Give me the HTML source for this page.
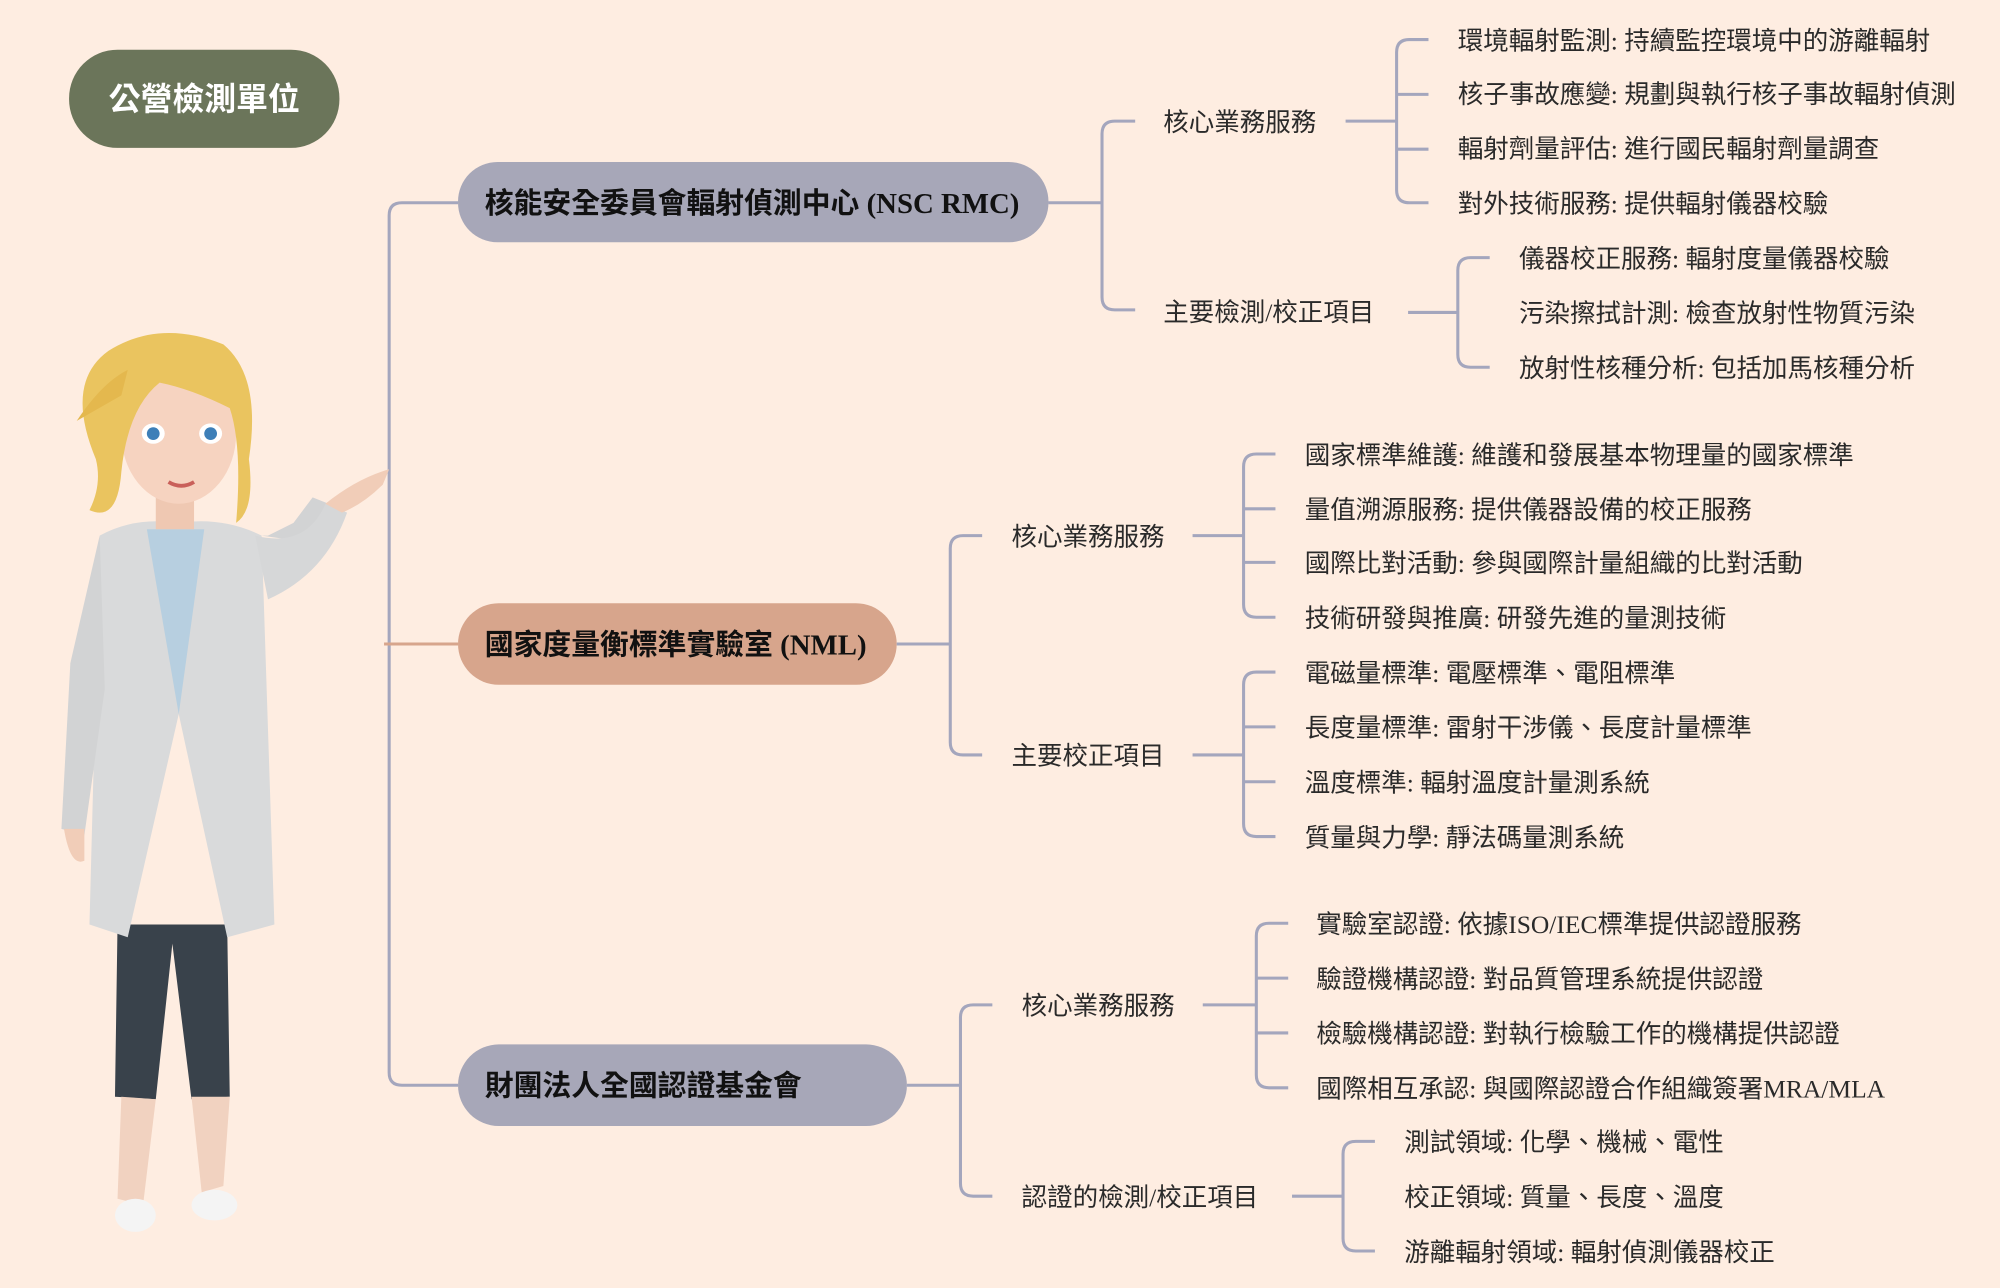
<!DOCTYPE html>
<html><head><meta charset="utf-8"><style>
html,body{margin:0;padding:0;background:#feede1;}
svg{display:block}
text{font-family:"Liberation Serif","Noto Sans CJK TC",sans-serif;fill:#2a2a2a;dominant-baseline:central}
.leaf{font-size:20px}
.mid{font-size:20px}
.node{font-size:22.6px;font-weight:bold;fill:#111}
.ln{fill:none;stroke:#a4a6bd;stroke-width:2.4}
</style></head><body>
<svg width="2000" height="1288" viewBox="0 0 1568 1010" xmlns="http://www.w3.org/2000/svg">
<rect width="1568" height="1010" fill="#feede1"/>
<rect x="54" y="39" width="212" height="77" rx="38" fill="#6b755a"/>
<text x="160" y="78" text-anchor="middle" style="font-size:25px;font-weight:bold;fill:#fff">公營檢測單位</text>

<path class="ln" d="M359,159 H315 Q305,159 305,169 V841 Q305,851 315,851 H359"/>
<path d="M301,505 H359" stroke="#d7a58c" stroke-width="2.4" fill="none"/>

<rect x="359" y="127" width="463" height="63" rx="31" fill="#a7a7b8"/>
<text class="node" x="380" y="160">核能安全委員會輻射偵測中心 (NSC RMC)</text>
<rect x="359" y="473" width="344" height="64" rx="32" fill="#d7a58c"/>
<text class="node" x="380" y="506">國家度量衡標準實驗室 (NML)</text>
<rect x="359" y="819" width="352" height="64" rx="32" fill="#a7a7b8"/>
<text class="node" x="380" y="852">財團法人全國認證基金會</text>

<path class="ln" d="M822,159 H864 M890,95 H874 Q864,95 864,105 V233 Q864,243 874,243 H890"/>
<text class="mid" x="912" y="96">核心業務服務</text>
<text class="mid" x="912" y="245">主要檢測/校正項目</text>
<path class="ln" d="M1055,95 H1095 M1120,31 H1105 Q1095,31 1095,41 V149 Q1095,159 1105,159 H1120 M1095,74 H1120 M1095,117 H1120"/>
<text class="leaf" x="1143" y="32">環境輻射監測: 持續監控環境中的游離輻射</text>
<text class="leaf" x="1143" y="74">核子事故應變: 規劃與執行核子事故輻射偵測</text>
<text class="leaf" x="1143" y="117">輻射劑量評估: 進行國民輻射劑量調查</text>
<text class="leaf" x="1143" y="160">對外技術服務: 提供輻射儀器校驗</text>
<path class="ln" d="M1104,245 H1143 M1168,202 H1153 Q1143,202 1143,212 V278 Q1143,288 1153,288 H1168"/>
<text class="leaf" x="1191" y="203">儀器校正服務: 輻射度量儀器校驗</text>
<text class="leaf" x="1191" y="246">污染擦拭計測: 檢查放射性物質污染</text>
<text class="leaf" x="1191" y="289">放射性核種分析: 包括加馬核種分析</text>

<path class="ln" d="M703,505 H745 M770,420 H755 Q745,420 745,430 V582 Q745,592 755,592 H770"/>
<text class="mid" x="793" y="421">核心業務服務</text>
<text class="mid" x="793" y="593">主要校正項目</text>
<path class="ln" d="M935,420 H975 M1000,356 H985 Q975,356 975,366 V474 Q975,484 985,484 H1000 M975,399 H1000 M975,441 H1000"/>
<text class="leaf" x="1023" y="357">國家標準維護: 維護和發展基本物理量的國家標準</text>
<text class="leaf" x="1023" y="400">量值溯源服務: 提供儀器設備的校正服務</text>
<text class="leaf" x="1023" y="442">國際比對活動: 參與國際計量組織的比對活動</text>
<text class="leaf" x="1023" y="485">技術研發與推廣: 研發先進的量測技術</text>
<path class="ln" d="M935,592 H975 M1000,527 H985 Q975,527 975,537 V646 Q975,656 985,656 H1000 M975,570 H1000 M975,613 H1000"/>
<text class="leaf" x="1023" y="528">電磁量標準: 電壓標準、電阻標準</text>
<text class="leaf" x="1023" y="571">長度量標準: 雷射干涉儀、長度計量標準</text>
<text class="leaf" x="1023" y="614">溫度標準: 輻射溫度計量測系統</text>
<text class="leaf" x="1023" y="657">質量與力學: 靜法碼量測系統</text>

<path class="ln" d="M711,851 H753 M778,788 H763 Q753,788 753,798 V928 Q753,938 763,938 H778"/>
<text class="mid" x="801" y="789">核心業務服務</text>
<text class="mid" x="801" y="939">認證的檢測/校正項目</text>
<path class="ln" d="M943,788 H985 M1010,724 H995 Q985,724 985,734 V843 Q985,853 995,853 H1010 M985,767 H1010 M985,810 H1010"/>
<text class="leaf" x="1032" y="725">實驗室認證: 依據ISO/IEC標準提供認證服務</text>
<text class="leaf" x="1032" y="768">驗證機構認證: 對品質管理系統提供認證</text>
<text class="leaf" x="1032" y="811">檢驗機構認證: 對執行檢驗工作的機構提供認證</text>
<text class="leaf" x="1032" y="854">國際相互承認: 與國際認證合作組織簽署MRA/MLA</text>
<path class="ln" d="M1013,938 H1053 M1078,895 H1063 Q1053,895 1053,905 V971 Q1053,981 1063,981 H1078"/>
<text class="leaf" x="1101" y="896">測試領域: 化學、機械、電性</text>
<text class="leaf" x="1101" y="939">校正領域: 質量、長度、溫度</text>
<text class="leaf" x="1101" y="982">游離輻射領域: 輻射偵測儀器校正</text>

<g>
<path d="M92,725 L90,860 L122,862 L135,740 L150,862 L180,860 L178,725 Z" fill="#39424b"/>
<path d="M95,860 L92,940 L112,945 L122,862 Z" fill="#f1d2c0"/>
<path d="M150,860 L158,935 L175,930 L180,860 Z" fill="#f1d2c0"/>
<ellipse cx="106" cy="953" rx="16" ry="13" fill="#f4f4f4"/>
<ellipse cx="168" cy="945" rx="18" ry="12" fill="#f4f4f4"/>
<path d="M78,420 Q105,405 140,410 Q175,405 205,420 L215,725 L178,735 L140,560 L100,735 L70,725 Z" fill="#d9dadb"/>
<path d="M115,415 L140,560 L160,415 Z" fill="#b7cfe0"/>
<path d="M78,420 L55,520 L48,650 L66,655 L82,540 Z" fill="#d2d3d4"/>
<path d="M205,420 L240,425 L262,410 L270,400 L245,390 L230,410 L210,420 Z" fill="#d2d3d4"/>
<path d="M200,420 Q240,430 255,395 L272,402 Q255,450 210,470 Z" fill="#d6d7d8"/>
<path d="M255,395 Q280,375 305,368 L300,380 Q285,395 268,402 Z" fill="#f1cdb8"/>
<path d="M50,650 Q55,680 66,675 L66,650 Z" fill="#f1cdb8"/>
<rect x="122" y="380" width="30" height="35" fill="#efc8b2"/>
<ellipse cx="140" cy="340" rx="45" ry="55" fill="#f6d3c0"/>
<path d="M75,360 Q50,300 85,275 Q125,250 175,270 Q205,295 195,360 Q200,400 185,410 Q190,350 180,320 Q150,305 125,300 Q100,320 95,370 Q92,410 70,400 Q80,380 75,360 Z" fill="#eac45f"/>
<path d="M60,330 Q80,300 100,290 L95,310 Z" fill="#e4b84e"/>
<ellipse cx="120" cy="340" rx="9" ry="8" fill="#fff"/><circle cx="120" cy="340" r="5" fill="#3d7fb8"/>
<ellipse cx="165" cy="340" rx="9" ry="8" fill="#fff"/><circle cx="165" cy="340" r="5" fill="#3d7fb8"/>
<path d="M132,378 Q142,384 152,378" stroke="#c9605a" stroke-width="3" fill="none"/>
</g>
</svg>
</body></html>
